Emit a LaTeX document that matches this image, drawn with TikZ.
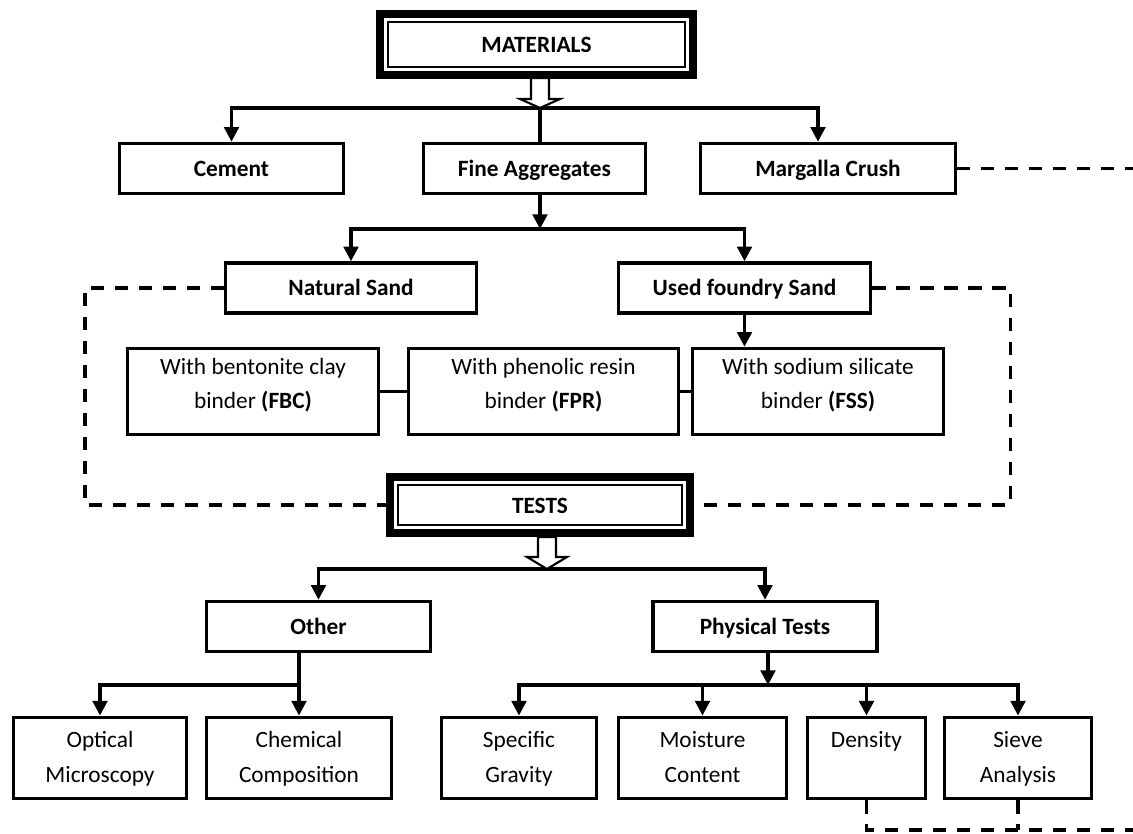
\documentclass[tikz,border=0pt]{standalone}
\usepackage{fontspec}
\setmainfont{Carlito}
\usepackage{tikz}
\usetikzlibrary{arrows.meta}

\newcommand{\nodesize}{\fontsize{17.5}{26}\selectfont}

\tikzset{
  box/.style={draw, line width=2.7pt, minimum height=37.5pt, inner sep=2pt,
    text height=15pt, text depth=3pt, font=\nodesize\bfseries},
  leaf/.style={draw, line width=2.7pt, minimum height=61pt, inner sep=2pt, align=center,
    text height=39pt, text depth=2.5pt, font=\nodesize},
  headbox/.style={draw, line width=6pt, inner sep=2pt, text height=15pt, text depth=3pt,
    font=\nodesize\bfseries,
    path picture={\draw[line width=1.5pt]
      ([shift={(6pt,-6pt)}]path picture bounding box.north west) rectangle
      ([shift={(-6pt,6pt)}]path picture bounding box.south east);}},
  conn/.style={line width=2.4pt, -{Triangle[length=11pt,width=11pt]}},
  link/.style={line width=2.4pt},
  dashlink/.style={line width=2.7pt, dash pattern=on 10pt off 8pt},
  hollow/.style={line width=1.6pt, fill=white, line join=miter}
}

\begin{document}
\begin{tikzpicture}[x=0.75pt,y=-0.75pt]
\useasboundingbox (0,0) rectangle (1133,834);

% materials
\node[headbox, minimum width=234.75pt, minimum height=45.75pt] (mat) at (536.5,44.5) {MATERIALS};
\node[box, minimum width=168pt] (cement) at (231.5,168.5) {Cement};
\node[box, minimum width=166.5pt] (fine) at (534.5,168.5) {Fine Aggregates};
\node[box, minimum width=191pt] (crush) at (828,168.5) {Margalla Crush};
\node[box, minimum width=188pt] (nat) at (351,288) {Natural Sand};
\node[box, minimum width=189pt] (used) at (744.5,288) {Used foundry Sand};
\node[leaf, minimum width=188pt, minimum height=64.5pt, text depth=13pt] (fbc) at (253,391.5) {With bentonite clay\\binder \textbf{(FBC)}};
\node[leaf, minimum width=202.5pt, minimum height=64.5pt, text depth=13pt] (fpr) at (543.5,391.5) {With phenolic resin\\binder \textbf{(FPR)}};
\node[leaf, minimum width=188pt, minimum height=64.5pt, text depth=13pt] (fss) at (818,391.5) {With sodium silicate\\binder \textbf{(FSS)}};

% tests
\node[headbox, minimum width=225pt, minimum height=42pt] (tests) at (540,505) {TESTS};
\node[box, minimum width=168pt] (other) at (318.5,626.5) {Other};
\node[box, minimum width=168pt] (phys) at (765,626.5) {Physical Tests};
\node[leaf, minimum width=130pt] (opt) at (100,758) {Optical\\Microscopy};
\node[leaf, minimum width=139pt] (chem) at (299,758) {Chemical\\Composition};
\node[leaf, minimum width=116pt] (sg) at (519,758) {Specific\\Gravity};
\node[leaf, minimum width=126pt] (mc) at (702.5,758) {Moisture\\Content};
\node[leaf, minimum width=88.5pt] (den) at (866.5,758) {Density\\\phantom{Analysis}};
\node[leaf, minimum width=110pt] (sieve) at (1018,758) {Sieve\\Analysis};

\coordinate (hubA) at (540,108);
\coordinate (hubC) at (540,229);
\coordinate (hubB) at (547,569);
\coordinate (hubD) at (298,685);
\coordinate (hubE) at (768,685);
\coordinate (edgeA) at (1133,165);
\coordinate (edgeB) at (1133,830);

% materials connectors
\draw[conn] (hubA) -| (cement);
\draw[conn] (hubA) -| ([xshift=-7.5pt]crush.north);
\draw[link] (hubA) -- (hubA |- fine.north);
\draw[hollow] (hubA) -- ++(-20,-9) -- ++(11,0) -- ++(0,-21) -- ++(18,0) -- ++(0,21) -- ++(11,0) -- cycle;
\draw[conn] (hubA |- fine.south) -- (hubC);
\draw[conn] (hubC) -| (nat);
\draw[conn] (hubC) -| (used);
\draw[conn] (used.south) -- (used.south |- fss.north);
\draw[link] (fbc) -- (fpr);
\draw[link] (fpr) -- (fss);
\draw[dashlink] (crush.east) -- (crush.east -| edgeA);
\draw[dashlink] (nat.west) -- ++(-139,0) |- (tests.west);
\draw[dashlink] (used.east) -- ++(138,0) |- (tests.east);

% tests connectors
\draw[conn] (hubB) -| (other);
\draw[conn] (hubB) -| (phys);
\draw[hollow] (hubB) -- ++(-20,-12) -- ++(11,0) -- ++(0,-20) -- ++(18,0) -- ++(0,20) -- ++(11,0) -- cycle;
\draw[conn] (other.south -| chem.north) -- (chem.north);
\draw[conn] (hubD) -| (opt);
\draw[conn] (phys.south -| hubE) -- (hubE);
\draw[conn] (hubE) -| (sg);
\draw[conn] (hubE) -| (mc);
\draw[conn] (hubE) -| (den);
\draw[conn] (hubE) -| (sieve);
\draw[dashlink] (den.south) |- (edgeB);
\draw[dashlink] (sieve.south) -- (sieve.south |- edgeB);
\end{tikzpicture}
\end{document}
